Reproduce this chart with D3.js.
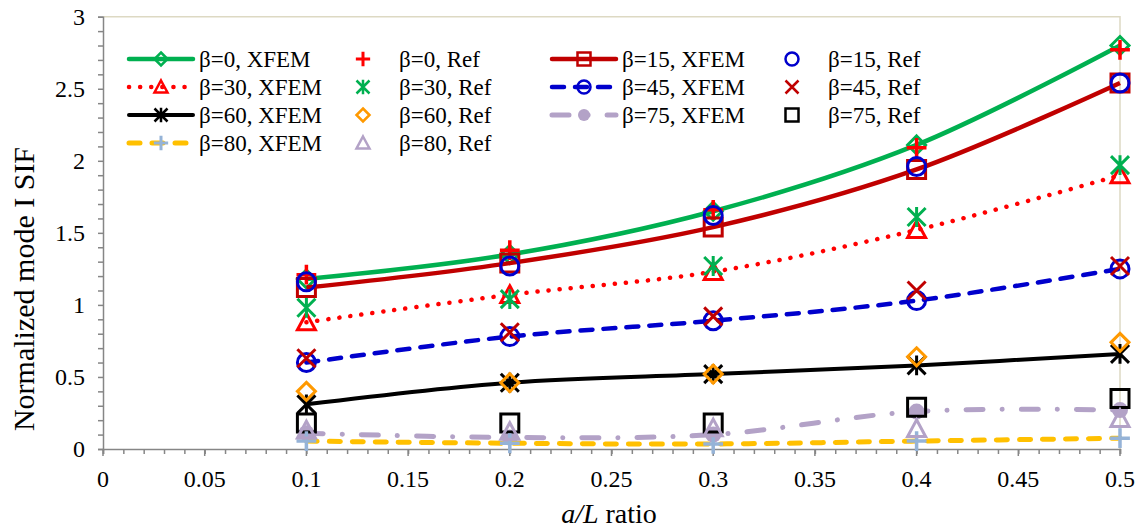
<!DOCTYPE html>
<html><head><meta charset="utf-8">
<script src="https://cdn.jsdelivr.net/npm/d3@7/dist/d3.min.js"></script>
<style>body{margin:0;background:#fff}svg{display:block}
text{font-family:"Liberation Serif","Times New Roman",Times,serif}</style>
</head><body>
<script>
// ---- data ----
const aL = [0.1, 0.2, 0.3, 0.4, 0.5];
const b0X  = [1.18, 1.35, 1.65, 2.11, 2.80];
const b0R  = [1.21, 1.38, 1.66, 2.09, 2.77];
const b15X = [1.12, 1.29, 1.54, 1.94, 2.54];
const b15R = [1.16, 1.27, 1.62, 1.96, 2.54];
const b30X = [0.88, 1.07, 1.23, 1.52, 1.90];
const b30R = [0.98, 1.04, 1.27, 1.61, 1.97];
const b45X = [0.60, 0.78, 0.89, 1.03, 1.25];
const b45R = [0.63, 0.81, 0.92, 1.10, 1.27];
const b60X = [0.31, 0.46, 0.52, 0.58, 0.66];
const b60R = [0.40, 0.46, 0.52, 0.64, 0.74];
const b75X = [0.11, 0.08, 0.10, 0.26, 0.27];
const b75R = [0.18, 0.18, 0.18, 0.29, 0.35];
const b80X = [0.055, 0.04, 0.035, 0.055, 0.075];
const b80R = [0.13, 0.12, 0.145, 0.14, 0.21];
const seriesNames = ["β=0, XFEM","β=0, Ref","β=15, XFEM","β=15, Ref","β=30, XFEM","β=30, Ref","β=45, XFEM","β=45, Ref",
                     "β=60, XFEM","β=60, Ref","β=75, XFEM","β=75, Ref","β=80, XFEM","β=80, Ref"];
const xTicks = d3.range(0, 0.5001, 0.05);
const yTicks = d3.range(0, 3.0001, 0.5);

// ---- styles ----
const styles = [
  {v:b0X,  line:"#00b050", w:4.5, dash:null, m:"diamond", mc:"#00b050", fill:"none"},
  {v:b0R,  line:null, m:"plus", mc:"#ff0000", fill:"none"},
  {v:b15X, line:"#c00000", w:4.5, dash:null, m:"square", mc:"#c00000", fill:"none"},
  {v:b15R, line:null, m:"circle", mc:"#0000cc", fill:"none"},
  {v:b30X, line:"#ff0000", w:4.5, dash:"0.1 11", m:"triangle", mc:"#ff0000", fill:"none"},
  {v:b30R, line:null, m:"star", mc:"#00b050", fill:"none"},
  {v:b45X, line:"#0000cc", w:4.5, dash:"12 11", m:"circle", mc:"#0000cc", fill:"none"},
  {v:b45R, line:null, m:"x", mc:"#c00000", fill:"none"},
  {v:b60X, line:"#000000", w:4, dash:null, m:"star", mc:"#000000", fill:"none"},
  {v:b60R, line:null, m:"diamond", mc:"#ff9900", fill:"none"},
  {v:b75X, line:"#b3a2c7", w:5, dash:"17 19 0.1 19", m:"dot", mc:"#b3a2c7", fill:"#b3a2c7"},
  {v:b75R, line:null, m:"square", mc:"#000000", fill:"none"},
  {v:b80X, line:"#ffc000", w:5, dash:"11 12", m:"plus", mc:"#95b3d7", fill:"none"},
  {v:b80R, line:null, m:"triangle", mc:"#b3a2c7", fill:"none"},
];

const W = 1141, H = 531;
const svg = d3.select("body").append("svg").attr("width", W).attr("height", H);
const x = d3.scaleLinear().domain([0, 0.5]).range([103, 1120]);
const y = d3.scaleLinear().domain([0, 3]).range([449, 16.7]);
const axisCol = "#868686";

function markerPath(type, r) {
  switch (type) {
    case "diamond": return `M0,${-r}L${r},0L0,${r}L${-r},0Z`;
    case "square": return `M${-r},${-r}H${r}V${r}H${-r}Z`;
    case "triangle": return `M0,${-r}L${r},${r*0.85}H${-r}Z`;
    case "circle": case "dot": return `M${r},0A${r},${r} 0 1,1 ${-r},0A${r},${r} 0 1,1 ${r},0Z`;
    case "plus": { const a = r*1.1; return `M${-a},0H${a}M0,${-a}V${a}`; }
    case "x": return `M${-r},${-r}L${r},${r}M${-r},${r}L${r},${-r}`;
    case "star": return `M${-r},${-r}L${r},${r}M${-r},${r}L${r},${-r}M0,${-r*1.1}V${r*1.1}`;
  }
}

// plot area border (top & right)
svg.append("path").attr("d", `M${x(0)},${y(3)}H${x(0.5)}V${y(0)}`)
  .attr("fill","none").attr("stroke","#ddd9c3").attr("stroke-width",1.5);

// axes
const xAxis = d3.axisBottom(x).tickValues(d3.range(0, 0.5001, 0.01)).tickSize(5).tickFormat("");
const gx = svg.append("g").attr("transform", `translate(0,${y(0)})`).call(xAxis);
const yAxis = d3.axisLeft(y).tickValues(d3.range(0, 3.0001, 0.1)).tickSize(5).tickFormat("");
const gy = svg.append("g").attr("transform", `translate(${x(0)},0)`).call(yAxis);
[gx, gy].forEach(g => {
  g.select(".domain").attr("stroke", axisCol).attr("stroke-width", 1.5);
  g.selectAll(".tick line").attr("stroke", axisCol).attr("stroke-width", 1.5);
});
svg.append("g").selectAll("line").data(xTicks).join("line")
  .attr("x1", d => x(d)).attr("x2", d => x(d)).attr("y1", y(0)).attr("y2", y(0) + 7)
  .attr("stroke", axisCol).attr("stroke-width", 1.5);
// tick labels
svg.append("g").selectAll("text").data(xTicks).join("text")
  .attr("x", d => x(d)).attr("y", 487).attr("text-anchor","middle")
  .attr("font-size", 24).text(d => String(+d.toFixed(2)));
svg.append("g").selectAll("text").data(yTicks).join("text")
  .attr("x", 85).attr("y", d => y(d) + 8).attr("text-anchor","end")
  .attr("font-size", 24).text(d => String(+d.toFixed(1)));

// axis titles
const xt = svg.append("text").attr("x", 609).attr("y", 523).attr("text-anchor","middle")
  .attr("font-size", 28);
xt.append("tspan").attr("font-style","italic").text("a/L");
xt.append("tspan").text(" ratio");
svg.append("text").attr("transform", "translate(34,289) rotate(-90)").attr("text-anchor","middle")
  .attr("font-size", 30).text("Normalized mode I SIF");

// series
const lineGen = d3.line().x(d => x(d[0])).y(d => y(d[1])).curve(d3.curveCatmullRom.alpha(0.5));
const plot = svg.append("g");
styles.forEach(s => {
  const pts = aL.map((a, i) => [a, s.v[i]]);
  if (s.line) {
    plot.append("path").attr("d", lineGen(pts)).attr("fill","none")
      .attr("stroke", s.line).attr("stroke-width", s.w)
      .attr("stroke-linecap", s.dash ? "round" : "butt")
      .attr("stroke-dasharray", s.dash);
  }
  const r = s.m === "dot" ? 8 : 9;
  plot.append("g").selectAll("path").data(pts).join("path")
    .attr("transform", d => `translate(${x(d[0])},${y(d[1])})`)
    .attr("d", markerPath(s.m, r))
    .attr("fill", s.fill).attr("stroke", s.m === "dot" ? "none" : s.mc)
    .attr("stroke-width", s.m === "plus" ? 3.5 : 3);
});

// legend
const colText = [199, 399, 622, 828];
const rowY = [59, 87, 115, 143];
styles.forEach((s, i) => {
  const c = i % 4, rr = Math.floor(i / 4);
  const cy = rowY[rr];
  const tx = colText[c];
  const g = svg.append("g");
  let mx;
  if (s.line) {
    const x1 = tx - 70, x2 = tx - 6;
    mx = (x1 + x2) / 2;
    g.append("path").attr("d", `M${x1},${cy}H${x2}`).attr("stroke", s.line).attr("stroke-width", s.w)
      .attr("stroke-linecap", "round").attr("stroke-dasharray", s.dash).attr("fill","none");
  } else {
    mx = tx - 36;
  }
  const r = s.m === "dot" ? 6 : 6.5;
  g.append("path").attr("transform", `translate(${mx},${cy})`).attr("d", markerPath(s.m, r))
    .attr("fill", s.fill).attr("stroke", s.m === "dot" ? "none" : s.mc).attr("stroke-width", s.m === "plus" ? 3 : 2.5);
  g.append("text").attr("x", tx).attr("y", cy + 8).attr("font-size", 23)
    .text(seriesNames[i]);
});
</script>
</body></html>
